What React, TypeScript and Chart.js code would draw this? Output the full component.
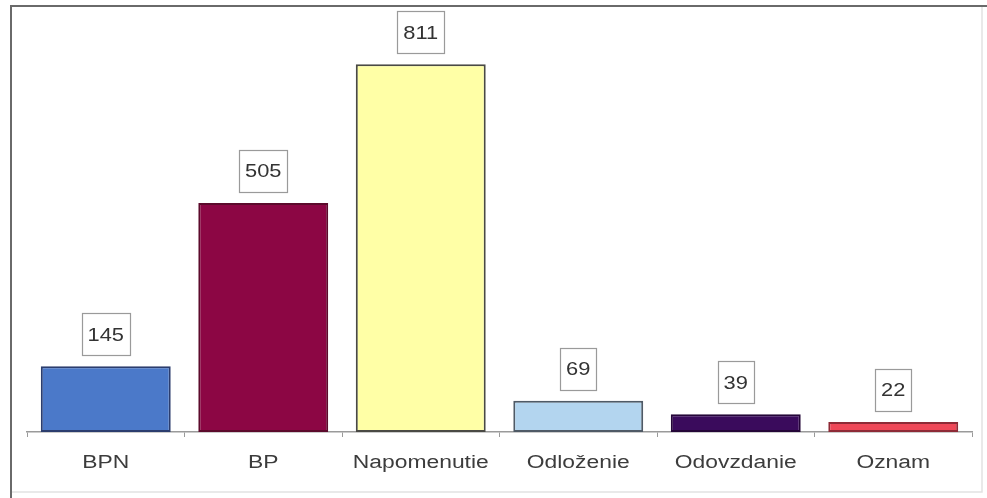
import React, { useEffect, useRef } from "react";
import { Chart, registerables } from "chart.js";

Chart.register(...registerables);

const categories = ["BPN", "BP", "Napomenutie", "Odloženie", "Odovzdanie", "Oznam"];
const values = [145, 505, 811, 69, 39, 22];
const fillColors = ["#4b79c9", "#8c0644", "#ffffa6", "#b3d5ef", "#3a0b5c", "#ee4858"];
const borderColors = ["#2b3d6e", "#5c0a2c", "#4a4a44", "#4f5a66", "#240638", "#8e2a36"];
const yMax = 900;

const FONT = '"Liberation Sans", Arial, sans-serif';

const framePlugin = {
  id: "frame",
  beforeDraw(chart: any) {
    const ctx = chart.ctx;
    ctx.save();
    ctx.fillStyle = "#ffffff";
    ctx.fillRect(0, 0, chart.width, chart.height);
    ctx.strokeStyle = "#e2e2e2";
    ctx.lineWidth = 1.5;
    ctx.strokeRect(11, 6, 971, 486);
    ctx.strokeStyle = "#6a6a6a";
    ctx.lineWidth = 2;
    ctx.beginPath();
    ctx.moveTo(11, 498);
    ctx.lineTo(11, 6);
    ctx.lineTo(987, 6);
    ctx.stroke();
    ctx.restore();
  },
};

const labelPlugin = {
  id: "valueBoxes",
  afterDatasetsDraw(chart: any) {
    const ctx = chart.ctx;
    const meta = chart.getDatasetMeta(0);
    const xScale = chart.scales.x;
    ctx.save();
    // value boxes
    const sx = 1.15;
    meta.data.forEach((bar: any, i: number) => {
      const { x, y } = bar.getProps(["x", "y"], true);
      const text = String(values[i]);
      ctx.font = `19px ${FONT}`;
      const tw = ctx.measureText(text).width * sx;
      const w = tw + 12;
      const h = 42;
      const bottom = y - 11;
      const top = bottom - h;
      ctx.fillStyle = "#ffffff";
      ctx.fillRect(x - w / 2, top, w, h);
      ctx.strokeStyle = "#9a9a9a";
      ctx.lineWidth = 1.2;
      ctx.strokeRect(Math.round(x - w / 2) + 0.5, Math.round(top) + 0.5, Math.round(w), h);
      ctx.save();
      ctx.translate(x, top + h / 2 + 1);
      ctx.scale(sx, 1);
      ctx.textAlign = "center";
      ctx.textBaseline = "middle";
      ctx.fillStyle = "#333333";
      ctx.fillText(text, 0, 0);
      ctx.restore();
    });
    // category labels
    const cx = 1.27;
    categories.forEach((c, i) => {
      const px = xScale.getPixelForValue(i);
      ctx.save();
      ctx.translate(px, 463);
      ctx.scale(cx, 1);
      ctx.font = `18px ${FONT}`;
      ctx.textAlign = "center";
      ctx.textBaseline = "middle";
      ctx.fillStyle = "#3c3c3c";
      ctx.fillText(c, 0, 0);
      ctx.restore();
    });
    ctx.restore();
  },
};

export default function App() {
  const ref = useRef<HTMLCanvasElement | null>(null);
  useEffect(() => {
    if (!ref.current) return;
    const chart = new Chart(ref.current, {
      type: "bar",
      data: {
        labels: categories,
        datasets: [
          {
            data: values,
            backgroundColor: fillColors,
            borderColor: borderColors,
            borderWidth: 2,
            borderSkipped: false,
            categoryPercentage: 1,
            barPercentage: 0.825,
          },
        ],
      },
      options: {
        animation: false,
        responsive: false,
        layout: { padding: { left: 27, right: 15, top: 24, bottom: 61 } },
        plugins: { legend: { display: false }, tooltip: { enabled: false } },
        scales: {
          x: {
            grid: {
              display: true,
              drawOnChartArea: false,
              drawTicks: true,
              tickLength: 5,
              color: "#9a9a9a",
              lineWidth: 1,
              offset: true,
            },
            border: { display: true, color: "#9a9a9a", width: 1.5 },
            ticks: { display: false },
          },
          y: { display: false, min: 0, max: yMax },
        },
      },
      plugins: [framePlugin, labelPlugin],
    });
    return () => chart.destroy();
  }, []);
  return (
    <div style={{ position: "absolute", left: 0, top: 0, width: 987, height: 498 }}>
      <canvas ref={ref} width={987} height={498} />
    </div>
  );
}
